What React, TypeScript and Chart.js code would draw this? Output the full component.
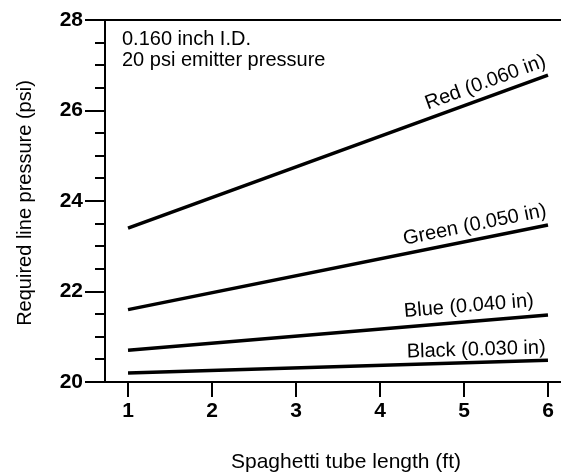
import React, { useEffect, useRef } from "react";
import { Chart, registerables } from "chart.js";

Chart.register(...registerables);

const xValues = [1, 6];
const redValues = [23.4, 26.78];
const greenValues = [21.6, 23.47];
const blueValues = [20.7, 21.48];
const blackValues = [20.2, 20.48];
const seriesLabels = ["Red (0.060 in)", "Green (0.050 in)", "Blue (0.040 in)", "Black (0.030 in)"];
const xTicks = [1, 2, 3, 4, 5, 6];
const yMajorTicks = [20, 22, 24, 26, 28];
const yMinorTicks = [20.5, 21, 21.5, 22.5, 23, 23.5, 24.5, 25, 25.5, 26.5, 27, 27.5];
const noteLines = ["0.160 inch I.D.", "20 psi emitter pressure"];
const xTitle = "Spaghetti tube length (ft)";
const yTitle = "Required line pressure (psi)";

const FONT = "'Liberation Sans', Arial, sans-serif";
// label end positions (pixel x) and gap above line
const labelEndX = [550, 549, 535, 546];
const labelGap = [9, 9, 10, 7];

const decorPlugin = {
  id: "decor",
  afterDraw(chart: any) {
    const { ctx, chartArea } = chart;
    const xs = chart.scales.x;
    const ys = chart.scales.y;
    ctx.save();
    ctx.strokeStyle = "#000";
    ctx.lineWidth = 2;
    ctx.beginPath();
    ctx.moveTo(chartArea.left - 20, chartArea.top);
    ctx.lineTo(chartArea.right, chartArea.top);
    ctx.stroke();
    yMinorTicks.forEach((v) => {
      const y = Math.round(ys.getPixelForValue(v));
      ctx.beginPath();
      ctx.moveTo(chartArea.left - 10, y);
      ctx.lineTo(chartArea.left, y);
      ctx.stroke();
    });
    ctx.fillStyle = "#000";
    ctx.font = `20px ${FONT}`;
    ctx.textAlign = "left";
    ctx.textBaseline = "alphabetic";
    noteLines.forEach((t, i) => {
      ctx.fillText(t, chartArea.left + 17, 45 + i * 21);
    });
    chart.data.datasets.forEach((ds: any, i: number) => {
      const p0 = ds.data[0];
      const p1 = ds.data[ds.data.length - 1];
      const x0 = xs.getPixelForValue(p0.x);
      const y0 = ys.getPixelForValue(p0.y);
      const x1 = xs.getPixelForValue(p1.x);
      const y1 = ys.getPixelForValue(p1.y);
      const ang = Math.atan2(y1 - y0, x1 - x0);
      const ex = labelEndX[i];
      const ey = y0 + ((ex - x0) * (y1 - y0)) / (x1 - x0);
      ctx.save();
      ctx.translate(ex, ey);
      ctx.rotate(ang);
      ctx.font = `20px ${FONT}`;
      ctx.textAlign = "right";
      ctx.textBaseline = "alphabetic";
      ctx.fillText(seriesLabels[i], 0, -labelGap[i]);
      ctx.restore();
    });
    ctx.font = `21px ${FONT}`;
    ctx.textAlign = "center";
    ctx.textBaseline = "alphabetic";
    ctx.fillText(xTitle, 346, 468);
    ctx.save();
    ctx.translate(25, 203);
    ctx.rotate(-Math.PI / 2);
    ctx.font = `20px ${FONT}`;
    ctx.textBaseline = "middle";
    ctx.fillText(yTitle, 0, 0);
    ctx.restore();
    ctx.restore();
  },
};

export default function App() {
  const ref = useRef<HTMLCanvasElement>(null);
  useEffect(() => {
    const mk = (ys: number[]) => xValues.map((x, i) => ({ x, y: ys[i] }));
    const line = (d: number[]) => ({
      data: mk(d),
      borderColor: "#000",
      borderWidth: 3.5,
      pointRadius: 0,
      tension: 0,
    });
    const chart = new Chart(ref.current!, {
      type: "line",
      data: {
        datasets: [line(redValues), line(greenValues), line(blueValues), line(blackValues)] as any,
      },
      options: {
        animation: false,
        responsive: false,
        maintainAspectRatio: false,
        layout: { padding: { top: 20, right: 0, left: 0, bottom: 0 } },
        plugins: { legend: { display: false }, tooltip: { enabled: false } },
        scales: {
          x: {
            type: "linear",
            min: 0.726,
            max: 6.155,
            afterBuildTicks: (s: any) => {
              s.ticks = xTicks.map((v) => ({ value: v }));
            },
            afterFit: (s: any) => {
              s.height = 93;
            },
            border: { display: true, color: "#000", width: 2 },
            grid: { drawOnChartArea: false, tickLength: 15, color: "#000", lineWidth: 2 },
            ticks: {
              color: "#000",
              font: { family: FONT, size: 21, weight: "bold" },
              padding: 2,
              autoSkip: false,
              maxRotation: 0,
            },
          },
          y: {
            type: "linear",
            min: 20,
            max: 28,
            afterBuildTicks: (s: any) => {
              s.ticks = yMajorTicks.map((v) => ({ value: v }));
            },
            afterFit: (s: any) => {
              s.width = 105;
            },
            border: { display: true, color: "#000", width: 2 },
            grid: { drawOnChartArea: false, tickLength: 20, color: "#000", lineWidth: 2 },
            ticks: {
              color: "#000",
              font: { family: FONT, size: 21, weight: "bold" },
              padding: 2,
              autoSkip: false,
            },
          },
        },
      },
      plugins: [decorPlugin],
    });
    return () => chart.destroy();
  }, []);
  return (
    <div style={{ position: "fixed", left: 0, top: 0, width: 561, height: 475, background: "#fff" }}>
      <canvas ref={ref} width={561} height={475} style={{ width: 561, height: 475 }} />
    </div>
  );
}
